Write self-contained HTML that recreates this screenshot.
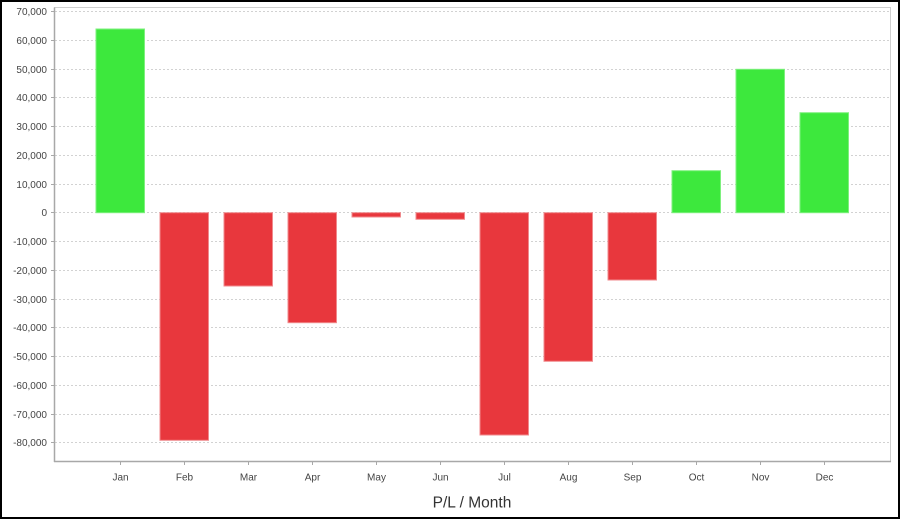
<!DOCTYPE html>
<html><head><meta charset="utf-8"><style>
html,body{margin:0;padding:0;background:#fff;}
svg{display:block;}
text{font-family:"Liberation Sans",Arial,sans-serif;}
</style></head><body>
<svg width="900" height="519" viewBox="0 0 900 519" xmlns="http://www.w3.org/2000/svg">
<rect x="0" y="0" width="900" height="519" fill="#fff"/>
<!-- plot area -->
<rect x="54.5" y="7.5" width="836" height="454" fill="#fff" stroke="#cfcfcf" stroke-width="1"/>
<!-- gridlines -->
<g stroke="#d2d2d2" stroke-width="1" stroke-dasharray="2,2">
<line x1="55" x2="890" y1="11.5" y2="11.5"/>
<line x1="55" x2="890" y1="40.5" y2="40.5"/>
<line x1="55" x2="890" y1="69.5" y2="69.5"/>
<line x1="55" x2="890" y1="97.5" y2="97.5"/>
<line x1="55" x2="890" y1="126.5" y2="126.5"/>
<line x1="55" x2="890" y1="155.5" y2="155.5"/>
<line x1="55" x2="890" y1="184.5" y2="184.5"/>
<line x1="55" x2="890" y1="212.5" y2="212.5"/>
<line x1="55" x2="890" y1="241.5" y2="241.5"/>
<line x1="55" x2="890" y1="270.5" y2="270.5"/>
<line x1="55" x2="890" y1="299.5" y2="299.5"/>
<line x1="55" x2="890" y1="327.5" y2="327.5"/>
<line x1="55" x2="890" y1="356.5" y2="356.5"/>
<line x1="55" x2="890" y1="385.5" y2="385.5"/>
<line x1="55" x2="890" y1="414.5" y2="414.5"/>
<line x1="55" x2="890" y1="442.5" y2="442.5"/>
</g>
<!-- bars -->
<g stroke-width="1">
<rect x="96" y="29" width="48.5" height="183.7" fill="#3de83d" stroke="#7ef07e"/>
<rect x="160" y="212.7" width="48.5" height="227.6" fill="#e8373d" stroke="#f08a8d"/>
<rect x="224" y="212.7" width="48.5" height="73.3" fill="#e8373d" stroke="#f08a8d"/>
<rect x="288" y="212.7" width="48.5" height="110" fill="#e8373d" stroke="#f08a8d"/>
<rect x="352" y="212.7" width="48.5" height="4.3" fill="#e8373d" stroke="#f08a8d"/>
<rect x="416" y="212.7" width="48.5" height="6.6" fill="#e8373d" stroke="#f08a8d"/>
<rect x="480" y="212.7" width="48.5" height="222.3" fill="#e8373d" stroke="#f08a8d"/>
<rect x="544" y="212.7" width="48.5" height="148.6" fill="#e8373d" stroke="#f08a8d"/>
<rect x="608" y="212.7" width="48.5" height="67.3" fill="#e8373d" stroke="#f08a8d"/>
<rect x="672" y="170.7" width="48.5" height="42" fill="#3de83d" stroke="#7ef07e"/>
<rect x="736" y="69.3" width="48.5" height="143.4" fill="#3de83d" stroke="#7ef07e"/>
<rect x="800" y="112.7" width="48.5" height="100" fill="#3de83d" stroke="#7ef07e"/>
</g>
<!-- axes -->
<line x1="54.5" y1="7.5" x2="54.5" y2="462" stroke="#a8a8a8" stroke-width="1.5"/>
<line x1="54" y1="461.5" x2="891" y2="461.5" stroke="#a8a8a8" stroke-width="1.5"/>
<!-- y ticks -->
<g stroke="#a8a8a8" stroke-width="1">
<line x1="51" x2="55" y1="11.5" y2="11.5"/><line x1="51" x2="55" y1="40.5" y2="40.5"/>
<line x1="51" x2="55" y1="69.5" y2="69.5"/><line x1="51" x2="55" y1="97.5" y2="97.5"/>
<line x1="51" x2="55" y1="126.5" y2="126.5"/><line x1="51" x2="55" y1="155.5" y2="155.5"/>
<line x1="51" x2="55" y1="184.5" y2="184.5"/><line x1="51" x2="55" y1="212.5" y2="212.5"/>
<line x1="51" x2="55" y1="241.5" y2="241.5"/><line x1="51" x2="55" y1="270.5" y2="270.5"/>
<line x1="51" x2="55" y1="299.5" y2="299.5"/><line x1="51" x2="55" y1="327.5" y2="327.5"/>
<line x1="51" x2="55" y1="356.5" y2="356.5"/><line x1="51" x2="55" y1="385.5" y2="385.5"/>
<line x1="51" x2="55" y1="414.5" y2="414.5"/><line x1="51" x2="55" y1="442.5" y2="442.5"/>
</g>
<g font-size="10" fill="#444" text-anchor="end">
<text x="47" y="15">70,000</text>
<text x="47" y="44">60,000</text>
<text x="47" y="73">50,000</text>
<text x="47" y="101">40,000</text>
<text x="47" y="130">30,000</text>
<text x="47" y="159">20,000</text>
<text x="47" y="188">10,000</text>
<text x="47" y="216">0</text>
<text x="47" y="245">-10,000</text>
<text x="47" y="274">-20,000</text>
<text x="47" y="303">-30,000</text>
<text x="47" y="331">-40,000</text>
<text x="47" y="360">-50,000</text>
<text x="47" y="389">-60,000</text>
<text x="47" y="418">-70,000</text>
<text x="47" y="446">-80,000</text>
</g>
<!-- x ticks -->
<g stroke="#a8a8a8" stroke-width="1">
<line x1="120.5" x2="120.5" y1="462" y2="465"/><line x1="184.5" x2="184.5" y1="462" y2="465"/>
<line x1="248.5" x2="248.5" y1="462" y2="465"/><line x1="312.5" x2="312.5" y1="462" y2="465"/>
<line x1="376.5" x2="376.5" y1="462" y2="465"/><line x1="440.5" x2="440.5" y1="462" y2="465"/>
<line x1="504.5" x2="504.5" y1="462" y2="465"/><line x1="568.5" x2="568.5" y1="462" y2="465"/>
<line x1="632.5" x2="632.5" y1="462" y2="465"/><line x1="696.5" x2="696.5" y1="462" y2="465"/>
<line x1="760.5" x2="760.5" y1="462" y2="465"/><line x1="824.5" x2="824.5" y1="462" y2="465"/>
</g>
<g font-size="10" fill="#444" text-anchor="middle">
<text x="120.5" y="480.5">Jan</text>
<text x="184.5" y="480.5">Feb</text>
<text x="248.5" y="480.5">Mar</text>
<text x="312.5" y="480.5">Apr</text>
<text x="376.5" y="480.5">May</text>
<text x="440.5" y="480.5">Jun</text>
<text x="504.5" y="480.5">Jul</text>
<text x="568.5" y="480.5">Aug</text>
<text x="632.5" y="480.5">Sep</text>
<text x="696.5" y="480.5">Oct</text>
<text x="760.5" y="480.5">Nov</text>
<text x="824.5" y="480.5">Dec</text>
</g>
<text x="472" y="507.5" font-size="15.5" fill="#333" text-anchor="middle">P/L / Month</text>
<!-- outer border -->
<rect x="1" y="1" width="898" height="517" fill="none" stroke="#000" stroke-width="2"/>
</svg>
</body></html>
